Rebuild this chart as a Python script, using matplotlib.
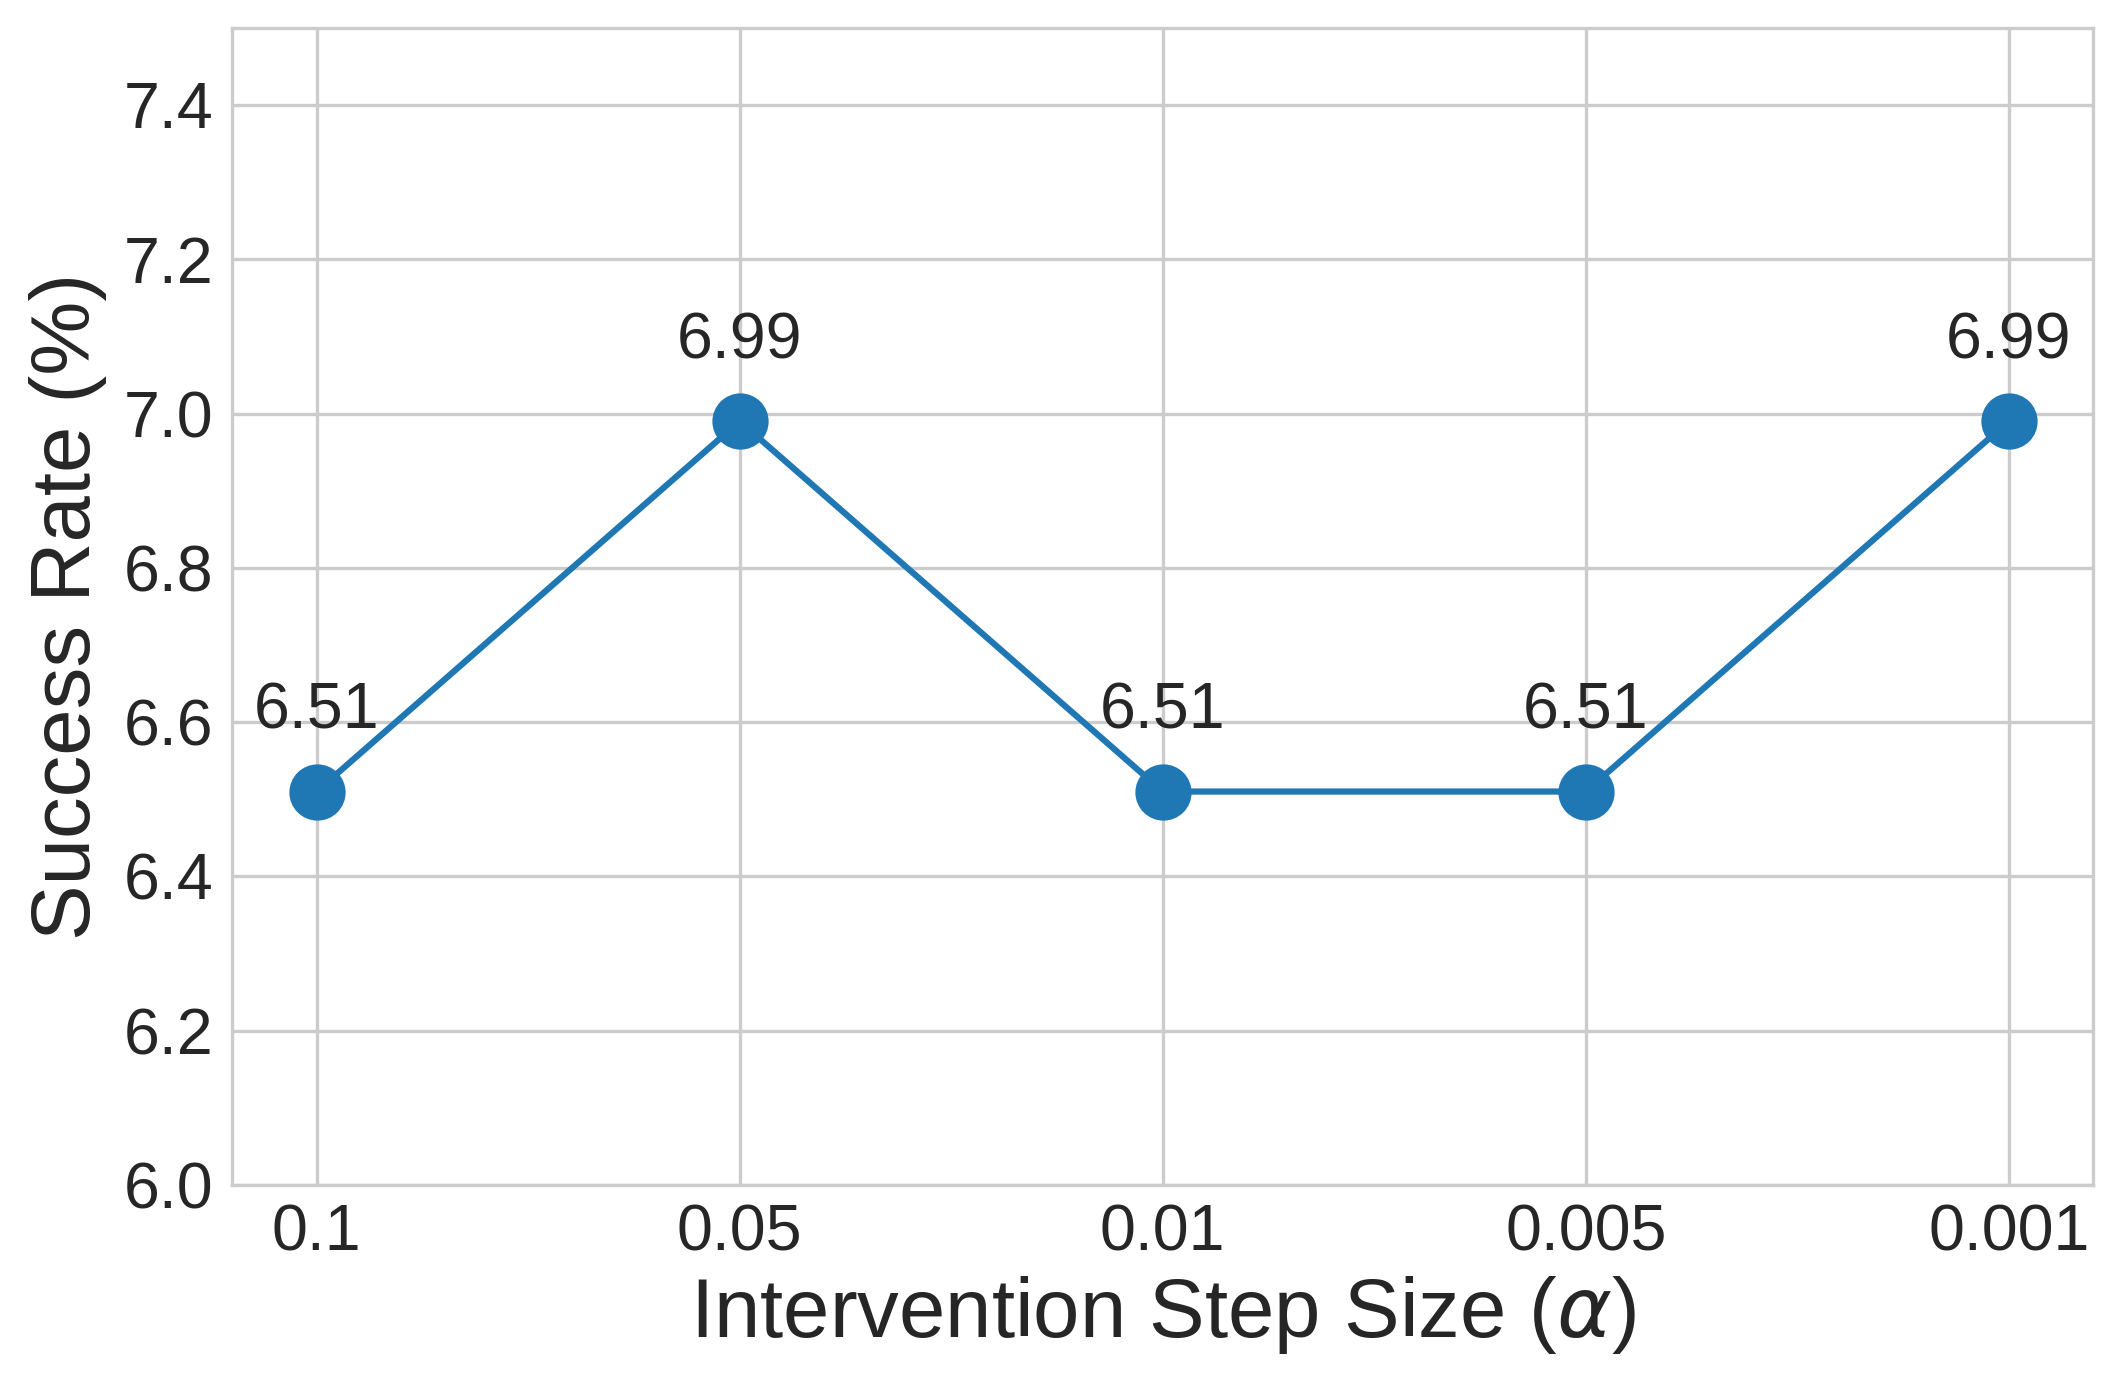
import numpy as np
import matplotlib
matplotlib.use('Agg')
import matplotlib.pyplot as plt
import seaborn as sns

step_labels = ['0.1', '0.05', '0.01', '0.005', '0.001']
success_rate = [6.51, 6.99, 6.51, 6.51, 6.99]

sns.set_style('whitegrid')
plt.rcParams['font.family'] = ['Liberation Sans', 'DejaVu Sans']
plt.rcParams['mathtext.fontset'] = 'dejavusans'

fig, ax = plt.subplots(figsize=(2121 / 300, 1390 / 300), dpi=300)
fig.subplots_adjust(left=0.1094, right=0.987, top=0.980, bottom=0.1475)

x = np.arange(len(step_labels))
ax.plot(x, success_rate, color='#1f77b4', marker='o', markersize=12.5, linewidth=1.5)

for xi, yi in zip(x, success_rate):
    ax.annotate(f'{yi:.2f}', (xi, yi), xytext=(0, 12), textcoords='offset points',
                ha='center', va='bottom', fontsize=15.5, color='#262626')

ax.set_xticks(x)
ax.set_xticklabels(step_labels)
ax.set_xlim(-0.2, 4.2)
ax.set_ylim(6.0, 7.5)
ax.set_yticks(np.arange(6.0, 7.41, 0.2))
ax.tick_params(axis='both', labelsize=15.5, colors='#262626', length=0, pad=4.4)
ax.set_xlabel(r'Intervention Step Size ($\alpha$)', fontsize=20, color='#262626', labelpad=2.5)
ax.set_ylabel('Success Rate (%)', fontsize=20, color='#262626')

plt.savefig('out.png', dpi=300)
